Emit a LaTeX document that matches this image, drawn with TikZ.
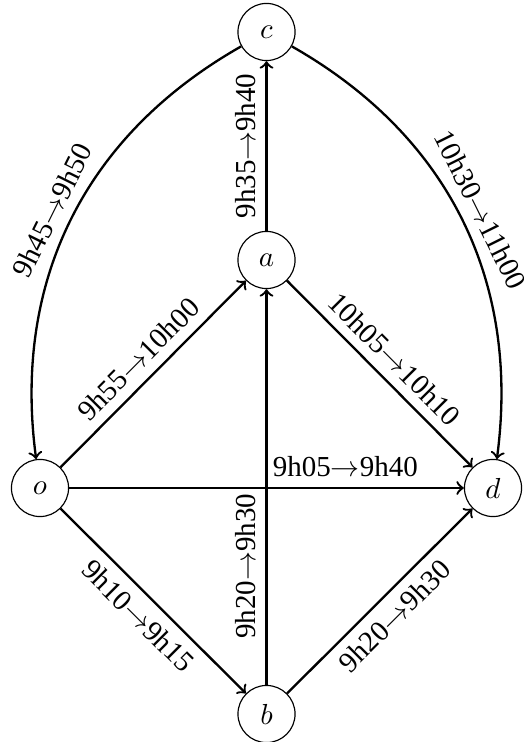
\documentclass[tikz,border=0pt]{standalone}
\usepackage{fontspec}
\setmainfont{Liberation Serif}
\begin{document}
\begin{tikzpicture}[x=0.345pt,y=-0.345pt,
  vtx/.style={circle,draw,thin,minimum size=19.7pt,inner sep=0pt},
  edge/.style={->,thick},
  lab/.style={sloped,font=\normalsize}]
\useasboundingbox (0,0) rectangle (523,742);
\node[vtx] (c) at (266.5,32) {$c$};
\node[vtx] (a) at (266.5,260) {$a$};
\node[vtx] (o) at (40,488) {$o$};
\node[vtx] (d) at (493,488) {$d$};
\node[vtx] (b) at (266.5,714) {$b$};
\draw[edge] (c) to[bend right=34] node[lab,midway,above]{9h45$\to$9h50} (o);
\draw[edge] (c) to[bend left=34] node[lab,midway,above]{10h30$\to$11h00} (d);
\draw[edge] (a) -- node[lab,midway,above]{9h35$\to$9h40} (c);
\draw[edge] (o) -- node[lab,midway,above]{9h55$\to$10h00} (a);
\draw[edge] (a) -- node[lab,midway,above]{10h05$\to$10h10} (d);
\draw[edge] (o) -- node[lab,pos=0.7,above]{9h05$\to$9h40} (d);
\draw[edge] (o) -- node[lab,midway,below]{9h10$\to$9h15} (b);
\draw[edge] (b) -- node[lab,pos=0.3,above]{9h20$\to$9h30} (a);
\draw[edge] (b) -- node[lab,midway,below]{9h20$\to$9h30} (d);
\end{tikzpicture}
\end{document}
